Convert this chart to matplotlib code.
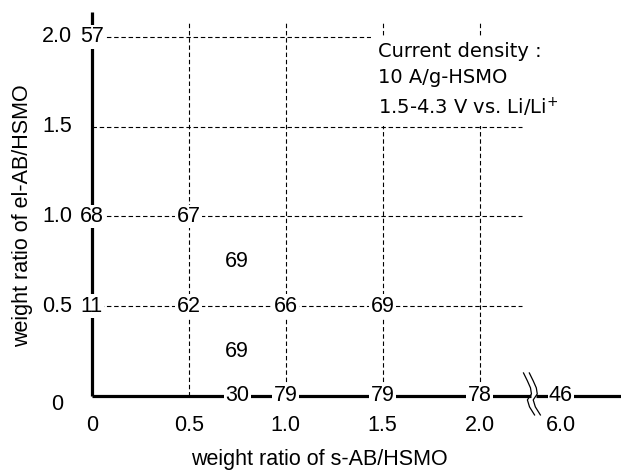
import numpy as np
import matplotlib.pyplot as plt
from matplotlib.scale import FuncScale

# capacity values (mAh/g) written at (s-AB, el-AB) weight ratios
axis_s = [0.75, 1.0, 1.5, 2.0, 6.0]          # points lying on el-AB = 0
axis_vals = [30, 79, 79, 78, 46]
grid_s = [0.0, 0.0, 0.5, 0.75, 0.0, 0.5, 1.0, 1.5, 0.75]
grid_el = [2.0, 1.0, 1.0, 0.75, 0.5, 0.5, 0.5, 0.5, 0.25]
grid_vals = [57, 68, 67, 69, 11, 62, 66, 69, 69]

xticks = [0, 0.5, 1.0, 1.5, 2.0, 6.0]
xticklabels = ['0', '0.5', '1.0', '1.5', '2.0', '6.0']
yticks = [0.5, 1.0, 1.5, 2.0]
yticklabels = ['0.5', '1.0', '1.5', '2.0']

note = 'Current density :\n10 A/g-HSMO\n1.5-4.3 V vs. Li/Li$^{+}$'

ARIAL = 'Liberation Sans'
FS = 15.5


# broken x axis: 2.35 ... 5.95 squeezed into a tiny gap
def fwd(x):
    x = np.asarray(x, float)
    return np.where(x <= 2.35, x,
                    np.where(x >= 5.95, x - 3.58, 2.35 + (x - 2.35) * 0.02 / 3.6))


def inv(p):
    p = np.asarray(p, float)
    return np.where(p <= 2.35, p,
                    np.where(p >= 2.37, p + 3.58, 2.35 + (p - 2.35) * 3.6 / 0.02))


fig = plt.figure(figsize=(6.21, 4.74), dpi=100)
ax = fig.add_axes([0, 0, 1, 1])
ax.set_xscale(FuncScale(ax.xaxis, (fwd, inv)))
ax.set_xlim(-0.474, 6.31)
ax.set_ylim(-0.435, 2.206)
ax.axis('off')

# dashed grid
dash = dict(color='black', lw=0.8, dashes=(4, 2.5), zorder=1)
for y in yticks:
    ax.plot([0, 2.22], [y, y], **dash)
for x in xticks[1:5]:
    ax.plot([x, x], [0, 2.08], **dash)

# thick axes
thick = dict(color='black', lw=2.3, zorder=2, solid_capstyle='butt')
ax.plot([0, 0], [0, 2.14], **thick)
ax.plot([0, 2.265], [0, 0], **thick)
ax.plot([2.29, 6.31], [0, 0], **thick)

# break mark (two wavy strokes)
bx = np.array([2.227, 2.247, 2.263, 2.268, 2.247, 2.258, 2.284])
by = np.array([0.128, 0.084, 0.045, 0.011, -0.022, -0.061, -0.106])
for off in (0.0, 0.03):
    ax.plot(bx + off, by, color='black', lw=0.9, zorder=3)

box = dict(boxstyle='square,pad=0.06', fc='white', ec='none')
for s, v in zip(axis_s, axis_vals):
    ax.text(s, 0, str(v), ha='center', va='center', fontsize=FS, family=ARIAL,
            bbox=box, zorder=4)
for s, e, v in zip(grid_s, grid_el, grid_vals):
    ax.text(s, e, str(v), ha='center', va='center', fontsize=FS, family=ARIAL,
            bbox=box, zorder=4)

# tick labels
for x, lab in zip(xticks, xticklabels):
    ax.text(x, -0.165, lab, ha='center', va='center', fontsize=FS, family=ARIAL)
for y, lab in zip(yticks, yticklabels):
    ax.text(-0.1, y, lab, ha='right', va='center', fontsize=FS, family=ARIAL)
ax.text(-0.18, -0.05, '0', ha='center', va='center', fontsize=FS, family=ARIAL)

# axis titles
ax.text(0.514, 0.03, 'weight ratio of s-AB/HSMO', transform=ax.transAxes,
        ha='center', va='center', fontsize=FS, family=ARIAL)
ax.text(0.036, 0.545, 'weight ratio of el-AB/HSMO', transform=ax.transAxes,
        ha='center', va='center', rotation=90, fontsize=FS, family=ARIAL)

# conditions note
ax.text(1.474, 1.97, note, ha='left', va='top', fontsize=14, family='DejaVu Sans',
        linespacing=1.45, zorder=5,
        bbox=dict(boxstyle='square,pad=0.35', fc='white', ec='none'))

fig.savefig('out.png', dpi=100)
